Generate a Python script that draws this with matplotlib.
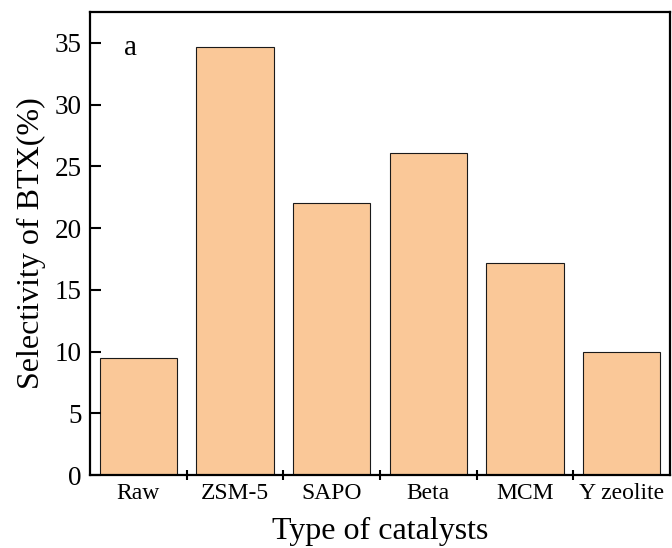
import numpy as np
import matplotlib
matplotlib.use('Agg')
import matplotlib.pyplot as plt
from matplotlib.ticker import FixedLocator

plt.rcParams['font.family'] = ['Liberation Serif', 'DejaVu Serif']

catalysts = ['Raw', 'ZSM-5', 'SAPO', 'Beta', 'MCM', 'Y zeolite']
btx_selectivity = [9.5, 34.7, 22.0, 26.1, 17.2, 10.0]

fig = plt.figure(figsize=(6.72, 5.48), dpi=100)
ax = fig.add_axes([0.134, 0.133, 0.863, 0.845])

x = np.arange(len(catalysts))
ax.bar(x, btx_selectivity, width=0.8, color='#FAC898',
       edgecolor='#1a1a1a', linewidth=0.8)

ax.set_xlim(-0.5, len(catalysts) - 0.5)
ax.set_ylim(0, 37.5)
ax.set_yticks(np.arange(0, 36, 5))

# category names without marks, short marks between the bars
ax.set_xticks(x)
ax.set_xticklabels(catalysts, fontsize=17)
ax.tick_params(axis='x', which='major', length=0, pad=6)
ax.xaxis.set_minor_locator(FixedLocator(x[:-1] + 0.5))
ax.tick_params(axis='x', which='minor', direction='inout', length=7, width=1.5)
ax.tick_params(axis='y', direction='in', length=8, width=1.5, labelsize=19.5, pad=6)

for side in ax.spines.values():
    side.set_linewidth(1.6)

ax.set_xlabel('Type of catalysts', fontsize=23, labelpad=9)
ax.set_ylabel('Selectivity of BTX(%)', fontsize=23, labelpad=6)
ax.text(0.069, 0.922, 'a', transform=ax.transAxes, fontsize=21,
        ha='center', va='center')

fig.savefig('out.png', dpi=100)
